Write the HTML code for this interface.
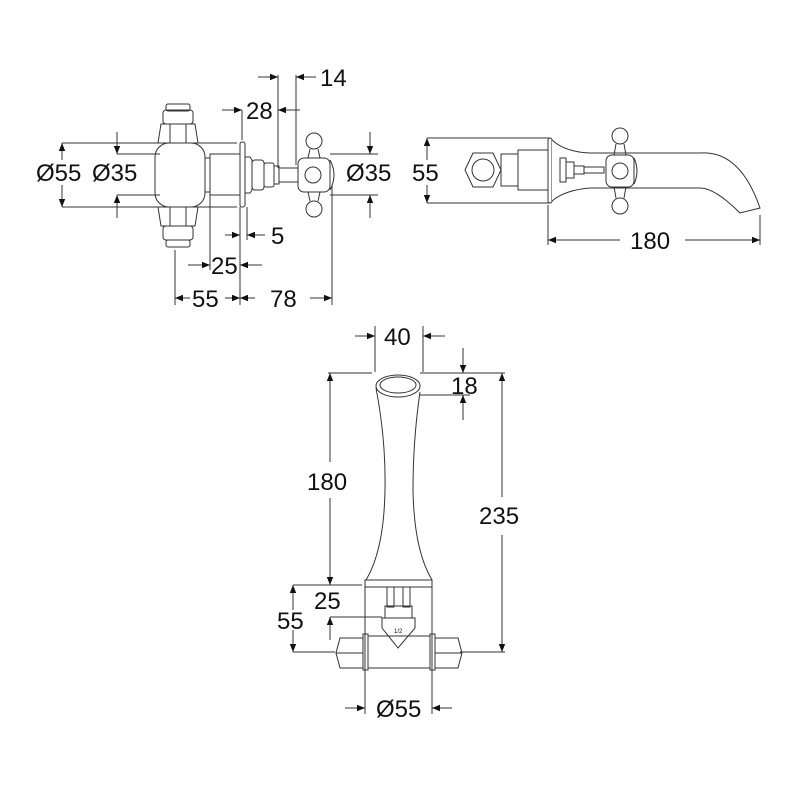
<!DOCTYPE html>
<html><head><style>body{margin:0;background:#fff}svg{display:block}text{font-family:"Liberation Sans",sans-serif;font-size:24px;fill:#111}</style></head>
<body>
<svg width="800" height="800" viewBox="0 0 800 800" xmlns="http://www.w3.org/2000/svg">
<defs><marker id="a" viewBox="0 0 10 10" refX="10" refY="5" markerWidth="10" markerHeight="8" markerUnits="userSpaceOnUse" orient="auto"><path d="M0,1L10,5L0,9z" fill="#111"/></marker></defs>
<g fill="none" stroke="#333" stroke-width="1">
<line x1="62" y1="143" x2="237" y2="143"/><line x1="62" y1="207" x2="237" y2="207"/>
<line x1="62" y1="160" x2="62" y2="143" marker-end="url(#a)"/><line x1="62" y1="185" x2="62" y2="207" marker-end="url(#a)"/>
<line x1="117" y1="154" x2="160" y2="154"/><line x1="117" y1="195" x2="160" y2="195"/>
<line x1="117" y1="132" x2="117" y2="154" marker-end="url(#a)"/><line x1="117" y1="218" x2="117" y2="195" marker-end="url(#a)"/>
<line x1="330" y1="154" x2="378" y2="154"/><line x1="330" y1="195" x2="378" y2="195"/>
<line x1="370" y1="132" x2="370" y2="154" marker-end="url(#a)"/><line x1="370" y1="218" x2="370" y2="195" marker-end="url(#a)"/>
<line x1="278" y1="75" x2="278" y2="168"/><line x1="296" y1="75" x2="296" y2="165"/>
<line x1="258" y1="77" x2="278" y2="77" marker-end="url(#a)"/><line x1="316" y1="77" x2="296" y2="77" marker-end="url(#a)"/>
<line x1="222" y1="110" x2="242" y2="110" marker-end="url(#a)"/><line x1="300" y1="110" x2="278" y2="110" marker-end="url(#a)"/>
<line x1="242" y1="110" x2="242" y2="140"/>
<line x1="240" y1="207" x2="240" y2="305"/><line x1="247" y1="207" x2="247" y2="240"/>
<line x1="225" y1="235" x2="240" y2="235" marker-end="url(#a)"/><line x1="265" y1="235" x2="247" y2="235" marker-end="url(#a)"/>
<line x1="210" y1="195" x2="210" y2="270"/>
<line x1="188" y1="265" x2="210" y2="265" marker-end="url(#a)"/><line x1="262" y1="265" x2="240" y2="265" marker-end="url(#a)"/>
<line x1="175" y1="250" x2="175" y2="305"/><line x1="332" y1="185" x2="332" y2="305"/>
<line x1="190" y1="298" x2="175" y2="298" marker-end="url(#a)"/><line x1="225" y1="298" x2="240" y2="298" marker-end="url(#a)"/>
<line x1="255" y1="298" x2="240" y2="298" marker-end="url(#a)"/><line x1="310" y1="298" x2="332" y2="298" marker-end="url(#a)"/>
<rect x="155" y="143" width="50" height="64" rx="14"/>
<path d="M158 143 L161 124 L195 124 L198 143"/><rect x="163" y="110" width="30" height="14" rx="3"/><rect x="166" y="104" width="24" height="7" rx="2"/>
<path d="M158 207 L161 226 L195 226 L198 207"/><rect x="163" y="226" width="30" height="14" rx="3"/><rect x="166" y="240" width="24" height="7" rx="2"/>
<line x1="170" y1="124" x2="170" y2="143"/><line x1="186" y1="124" x2="186" y2="143"/><line x1="170" y1="207" x2="170" y2="226"/><line x1="186" y1="207" x2="186" y2="226"/>
<rect x="205" y="158" width="5" height="34"/><rect x="210" y="154" width="30" height="41"/>
<rect x="240" y="142" width="5" height="65" rx="2"/>
<path d="M245 157 L250 157 L252 160 L252 190 L250 193 L245 193"/>
<rect x="252" y="160" width="12" height="30" rx="3"/><rect x="264" y="163" width="10" height="24" rx="2"/><rect x="274" y="166" width="5" height="18"/>
<rect x="279" y="168" width="19" height="14"/>
<rect x="298" y="158" width="32" height="34" rx="6"/><circle cx="313" cy="175" r="8"/>
<circle cx="314" cy="141" r="8"/><path d="M310 149 L308 158 M318 149 L320 158"/>
<circle cx="314" cy="209" r="8"/><path d="M310 201 L308 192 M318 201 L320 192"/>
<path d="M330 160 Q338 175 330 190"/>
<line x1="427" y1="138" x2="550" y2="138"/><line x1="427" y1="203" x2="550" y2="203"/>
<line x1="427" y1="160" x2="427" y2="138" marker-end="url(#a)"/><line x1="427" y1="185" x2="427" y2="203" marker-end="url(#a)"/>
<path d="M465 170 L473 153 L493 153 L501 170 L493 187 L473 187 Z"/><circle cx="483" cy="170" r="11"/>
<rect x="501" y="154" width="17" height="32"/><rect x="518" y="150" width="30" height="40"/>
<rect x="548" y="138" width="4" height="65" rx="2"/>
<path fill="#fff" d="M552 140 Q565 152 590 153 L700 153 Q740 150 760 208 L740 213 Q715 188 700 188 L590 188 Q565 190 552 201"/>
<rect x="560" y="158" width="6" height="24" fill="#fff"/><rect x="566" y="162" width="8" height="16" fill="#fff"/><rect x="574" y="166" width="10" height="8" fill="#fff"/><rect x="584" y="167" width="20" height="6" fill="#fff"/>
<path d="M616 144 L614 155 M624 144 L626 155 M616 198 L614 187 M624 198 L626 187"/>
<rect x="606" y="155" width="28" height="32" rx="6" fill="#fff"/><circle cx="620" cy="171" r="8"/>
<circle cx="620" cy="136" r="8"/><circle cx="620" cy="206" r="8"/>
<path d="M634 158 Q640 171 634 184"/>
<line x1="548" y1="205" x2="548" y2="245"/><line x1="760" y1="215" x2="760" y2="245"/>
<line x1="620" y1="240" x2="548" y2="240" marker-end="url(#a)"/><line x1="685" y1="240" x2="760" y2="240" marker-end="url(#a)"/>
<line x1="375" y1="326" x2="375" y2="372"/><line x1="423" y1="326" x2="423" y2="372"/>
<line x1="355" y1="336" x2="375" y2="336" marker-end="url(#a)"/><line x1="445" y1="336" x2="423" y2="336" marker-end="url(#a)"/>
<line x1="328" y1="373" x2="372" y2="373"/><line x1="420" y1="373" x2="505" y2="373"/><line x1="420" y1="395" x2="470" y2="395"/>
<line x1="463" y1="348" x2="463" y2="373" marker-end="url(#a)"/><line x1="463" y1="420" x2="463" y2="395" marker-end="url(#a)"/>
<line x1="502" y1="497" x2="502" y2="373" marker-end="url(#a)"/><line x1="502" y1="535" x2="502" y2="652" marker-end="url(#a)"/>
<line x1="330" y1="462" x2="330" y2="373" marker-end="url(#a)"/><line x1="330" y1="498" x2="330" y2="585" marker-end="url(#a)"/>
<ellipse cx="398" cy="386" rx="22" ry="11"/><ellipse cx="398" cy="385" rx="18" ry="8"/>
<path d="M376 388 Q386 440 385 490 Q384 550 366 580"/><path d="M420 392 Q413 440 413 490 Q414 550 432 580"/>
<rect x="365" y="580" width="67" height="7"/>
<line x1="293" y1="585" x2="362" y2="585"/><line x1="293" y1="652" x2="335" y2="652"/><line x1="330" y1="617" x2="382" y2="617"/>
<line x1="293" y1="610" x2="293" y2="585" marker-end="url(#a)"/><line x1="293" y1="630" x2="293" y2="652" marker-end="url(#a)"/>
<line x1="330" y1="640" x2="330" y2="617" marker-end="url(#a)"/>
<line x1="460" y1="652" x2="505" y2="652"/>
<rect x="387" y="587" width="7" height="20"/><rect x="403" y="587" width="7" height="20"/><rect x="385" y="606" width="27" height="12"/>
<path d="M382 618 L415 618 L415 628 L398 648 L382 628 Z"/>
<rect x="368" y="636" width="62" height="32"/>
<rect x="363" y="634" width="5" height="36"/><rect x="430" y="634" width="5" height="36"/>
<path d="M363 638 L340 638 L336 653 L340 668 L363 668"/><line x1="336" y1="653" x2="363" y2="653"/>
<path d="M435 638 L458 638 L462 653 L458 668 L435 668"/><line x1="435" y1="653" x2="462" y2="653"/>
<line x1="365" y1="587" x2="365" y2="714"/><line x1="432" y1="587" x2="432" y2="714"/>
<line x1="345" y1="708" x2="365" y2="708" marker-end="url(#a)"/><line x1="452" y1="708" x2="432" y2="708" marker-end="url(#a)"/>
</g>
<text x="36" y="181">Ø55</text><text x="92" y="181">Ø35</text><text x="346" y="181">Ø35</text>
<text x="320" y="86">14</text><text x="246" y="119">28</text><text x="271" y="244">5</text>
<text x="211" y="274">25</text><text x="192" y="307">55</text><text x="270" y="307">78</text>
<text x="412" y="181">55</text><text x="630" y="249">180</text>
<text x="384" y="345">40</text><text x="451" y="394">18</text><text x="307" y="490">180</text><text x="479" y="524">235</text>
<text x="314" y="609">25</text><text x="277" y="629">55</text><text x="376" y="717">Ø55</text>
<text x="394" y="633" style="font-size:6px">1/2</text>
</svg>
</body></html>
